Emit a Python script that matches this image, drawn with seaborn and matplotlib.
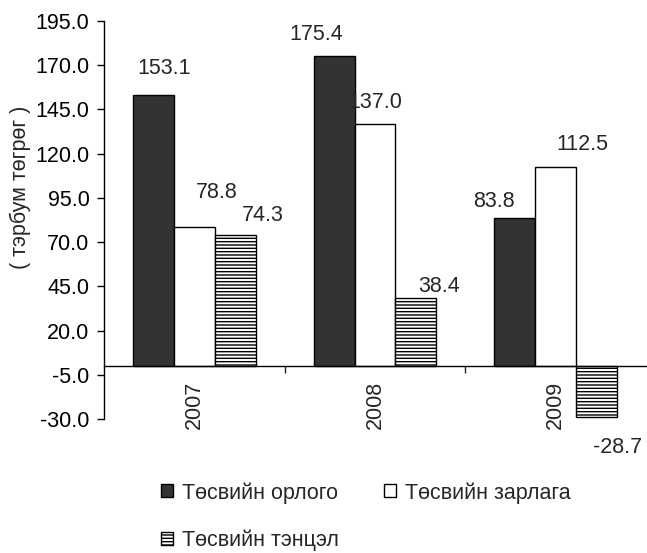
import pandas as pd
import matplotlib
matplotlib.use('Agg')
import matplotlib.pyplot as plt
import seaborn as sns
from matplotlib.patches import Patch
from matplotlib.ticker import FormatStrFormatter

# data
years = ["2007", "2008", "2009"]
series = ["Төсвийн орлого", "Төсвийн зарлага", "Төсвийн тэнцэл"]
orlogo = [153.1, 175.4, 83.8]
zarlaga = [78.8, 137.0, 112.5]
tentsel = [74.3, 38.4, -28.7]
y_ticks = [-30, -5, 20, 45, 70, 95, 120, 145, 170, 195]
y_label = "( тэрбум төгрөг )"

# label nudges in points (dx, dy from bar end), the original had them moved by hand
label_offsets = [
    [(8, 19.5), (-13, 15), (-15, 12)],
    [(16.5, 24.5), (0.5, 15), (19.5, 16)],
    [(19.5, 13.5), (17, 8), (15, -22.5)],
]

sns.set_style("ticks")
plt.rcParams['font.family'] = ['Liberation Sans', 'DejaVu Sans']
FS = 15.5

df = pd.DataFrame({
    "year": years * 3,
    "series": [s for s in series for _ in years],
    "value": orlogo + zarlaga + tentsel,
})

fig = plt.figure(figsize=(6.47, 5.53), dpi=100)
ax = fig.add_axes([104 / 647, 1 - 419 / 553, 542 / 647, 398 / 553])

sns.barplot(data=df, x="year", y="value", hue="series", order=years,
            hue_order=series, palette=["#333333", "white", "white"],
            saturation=1, edgecolor="black", linewidth=1.0, width=0.68,
            errorbar=None, legend=False, ax=ax)

for bar in ax.containers[2]:
    bar.set_hatch("-----")

# value labels
for cont, vals, offs in zip(ax.containers, [orlogo, zarlaga, tentsel], label_offsets):
    for bar, v, (dx, dy) in zip(cont, vals, offs):
        x = bar.get_x() + bar.get_width() / 2
        ax.annotate(f"{v:.1f}", (x, v), xytext=(dx, dy), textcoords="offset points",
                    ha="center", va="center", fontsize=FS)

# axes
ax.set_xlim(-0.5, 2.5)
ax.set_ylim(-30, 195)
ax.set_yticks(y_ticks)
ax.yaxis.set_major_formatter(FormatStrFormatter("%.1f"))
ax.spines["top"].set_visible(False)
ax.spines["right"].set_visible(False)
ax.spines["bottom"].set_position(("data", 0))
for s in ["left", "bottom"]:
    ax.spines[s].set_color("black")
    ax.spines[s].set_linewidth(1.0)
ax.tick_params(axis="y", length=5, width=1, pad=5.5, labelsize=FS, colors="black")
ax.tick_params(axis="x", which="major", length=0, pad=11, labelsize=FS, labelrotation=90)
ax.set_xticks([0.5, 1.5], minor=True)
ax.tick_params(axis="x", which="minor", length=5, width=1, direction="out")
ax.set_xlabel("")
ax.set_ylabel(y_label, fontsize=FS)
ax.yaxis.set_label_coords(-0.134, 0.583)

# legend, filled column-wise so reorder for the original row layout
handles = [Patch(facecolor="#333333", edgecolor="black"),
           Patch(facecolor="white", edgecolor="black", hatch="-----"),
           Patch(facecolor="white", edgecolor="black")]
labels = [series[0], series[2], series[1]]
fig.legend(handles, labels, loc="upper left", bbox_to_anchor=(161 / 647, 1 - 482 / 553),
           ncol=2, frameon=False, fontsize=FS, handlelength=0.56, handleheight=0.56,
           handletextpad=0.42, columnspacing=2.1, labelspacing=1.2,
           borderpad=0, borderaxespad=0)

plt.savefig("out.png", dpi=100)
plt.close()
